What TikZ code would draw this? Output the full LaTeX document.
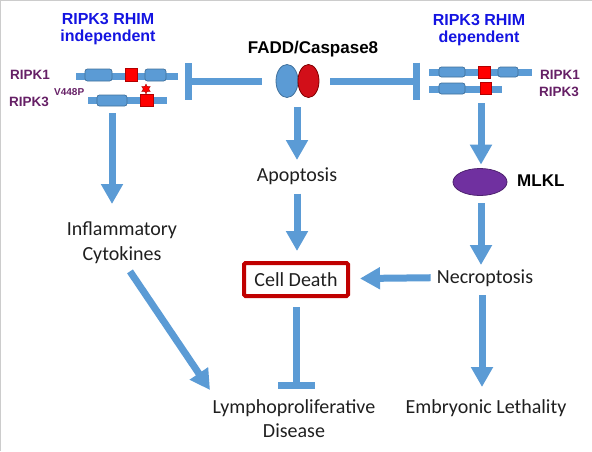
\documentclass[tikz,border=0pt]{standalone}
\usepackage{fontspec}
\setmainfont{Carlito}
\newfontfamily\arialf{Liberation Sans}
\usetikzlibrary{arrows.meta,shapes.geometric}
\definecolor{lblue}{RGB}{91,155,213}
\definecolor{dblue}{RGB}{65,113,156}
\definecolor{ttlblue}{RGB}{20,20,225}
\definecolor{lblpurple}{RGB}{102,32,102}
\definecolor{mlklpurple}{RGB}{112,48,160}
\definecolor{cdred}{RGB}{192,0,0}
\definecolor{casred}{RGB}{210,15,25}
\begin{document}
\begin{tikzpicture}[x=1pt,y=-1pt,
  arr/.style={line width=7pt, draw=lblue, -{Triangle[width=21pt,length=20pt]}},
  inh/.style={line width=7pt, draw=lblue, -{Bar[width=37pt]}},
  txt/.style={font=\fontsize{20}{24.5}\selectfont, inner sep=0pt, text=black!88},
  ttl/.style={font=\arialf\bfseries\fontsize{16}{17}\selectfont, text=ttlblue, align=center, inner sep=0pt, anchor=north},
  plbl/.style={font=\arialf\bfseries\fontsize{13.5}{15}\selectfont, text=lblpurple, inner sep=0pt, anchor=base west},
  bb/.style={rectangle, fill=lblue, inner sep=0pt, minimum height=7pt},
  dom/.style={rectangle, rounded corners=2.5pt, fill=lblue, draw=dblue, line width=0.7pt, inner sep=0pt},
  rim/.style={rectangle, fill=red, draw=red!70!black, line width=0.6pt, inner sep=0pt},
  bfl/.style={font=\arialf\bfseries\fontsize{17}{19}\selectfont, inner sep=0pt}
]
\useasboundingbox (0,0) rectangle (592,451);
\draw[black!20, line width=1pt] (0.5,451) -- (0.5,0.5) -- (592,0.5);

% titles
\node[ttl] (tl) at (108,13) {RIPK3 RHIM\\independent};
\node[ttl] (tr) at (479,14) {RIPK3 RHIM\\dependent};
\node[bfl, anchor=base] (fadd) at (313,53) {FADD/Caspase8};

% FADD / Caspase8
\node[ellipse, fill=lblue, draw=dblue, line width=0.8pt, minimum width=22pt, minimum height=33pt, inner sep=0pt] (fb) at (287,81) {};
\node[ellipse, fill=casred, draw=red!50!black, line width=0.8pt, minimum width=21pt, minimum height=33pt, inner sep=0pt] (fr) at (308.5,81) {};

% left domains
\node[bb, minimum width=102pt] (l1bb) at (127,76) {};
\node[dom, minimum width=27pt, minimum height=12pt] (l1d1) at (98.5,75) {};
\node[rim, minimum width=12pt, minimum height=13pt] (l1r) at (131,74.5) {};
\node[dom, minimum width=21pt, minimum height=12pt] (l1d2) at (155.5,75) {};
\node[bb, minimum width=79pt] (l3bb) at (127.5,100) {};
\node[dom, minimum width=30pt, minimum height=11pt] (l3d) at (112,100.5) {};
\node[rim, minimum width=13pt, minimum height=12pt] (l3r) at (146.5,100) {};
\node[star, star points=6, star point ratio=1.9, fill=red, draw=red!70!black, line width=0.4pt, inner sep=0pt, minimum size=10pt] (l3s) at (146,89) {};
\node[plbl] (l1lab) at (10,79) {RIPK1};
\node[plbl] (l3lab) at (9,106) {RIPK3};
\node[font=\arialf\bfseries\fontsize{10}{11}\selectfont, text=lblpurple, inner sep=0pt, anchor=base west] (l3sup) at (54,95) {V448P};

% right domains
\node[bb, minimum width=103pt] (r1bb) at (480.5,72) {};
\node[dom, minimum width=26pt, minimum height=10pt] (r1d1) at (452,72) {};
\node[rim, minimum width=12pt, minimum height=12pt] (r1r) at (484,72) {};
\node[dom, minimum width=20pt, minimum height=10pt] (r1d2) at (508,72) {};
\node[bb, minimum width=73pt] (r3bb) at (465.5,89.5) {};
\node[dom, minimum width=26pt, minimum height=11pt] (r3d) at (452,88.5) {};
\node[rim, minimum width=11pt, minimum height=12pt] (r3r) at (485.5,88) {};
\node[plbl] (r1lab) at (540,79) {RIPK1};
\node[plbl] (r3lab) at (539,96) {RIPK3};

% MLKL
\node[ellipse, fill=mlklpurple, draw=mlklpurple!70!black, line width=0.8pt, minimum width=54pt, minimum height=27pt, inner sep=0pt] (mlkl) at (480,182) {};
\node[bfl, anchor=base west] (mlkllab) at (517,186) {MLKL};

% text nodes
\node[txt, anchor=base] (apo) at (297,181.5) {Apoptosis};
\node[txt, anchor=north, align=center] (infl) at (122,222) {Inflammatory\\Cytokines};
\node[txt, anchor=base] (necro) at (485,283) {Necroptosis};
\node[draw=cdred, line width=4pt, rounded corners=1.5pt, minimum width=104pt, minimum height=33pt, inner sep=0pt, font=\fontsize{20}{24}\selectfont, text=black!88] (cd) at (296,279.5) {Cell Death};
\node[txt, anchor=north, align=center] (lympho) at (294,399) {Lymphoproliferative\\Disease};
\node[txt, anchor=base] (embryo) at (486,413) {Embryonic Lethality};

\coordinate (lT) at (185,81);
\coordinate (rT) at (420,81);

% connectors
\draw[inh] ([xshift=-14pt]fb.west) -- (lT);
\draw[inh] ([xshift=11pt]fr.east) -- (rT);
\draw[arr] ([shift={(10,9.5)}]fb.south) -- ([shift={(0,-21.5)}]apo.base);
\draw[arr] ([shift={(0,12)}]apo.base) -- ([shift={(1,-10)}]cd.north);
\draw[inh] ([shift={(0,9)}]cd.south) -- ([shift={(0,91)}]cd.south);
\draw[arr] ([shift={(0,7)}]l3d.south) -- ([shift={(-10,-18)}]infl.north);
\draw[arr] ([shift={(8,7.5)}]infl.south) -- ([shift={(-84,-9)}]lympho.north);
\draw[arr] ([shift={(-4.5,9)}]r3r.south) -- ([shift={(1,-3.5)}]mlkl.north);
\draw[arr] ([shift={(1,7.5)}]mlkl.south) -- ([shift={(-4,-18)}]necro.base);
\draw[arr] ([shift={(-6,0)}]necro.west) -- ([shift={(10,-1)}]cd.east);
\draw[arr] ([shift={(-3,12)}]necro.base) -- ([shift={(-4,-26)}]embryo.base);
\end{tikzpicture}
\end{document}
